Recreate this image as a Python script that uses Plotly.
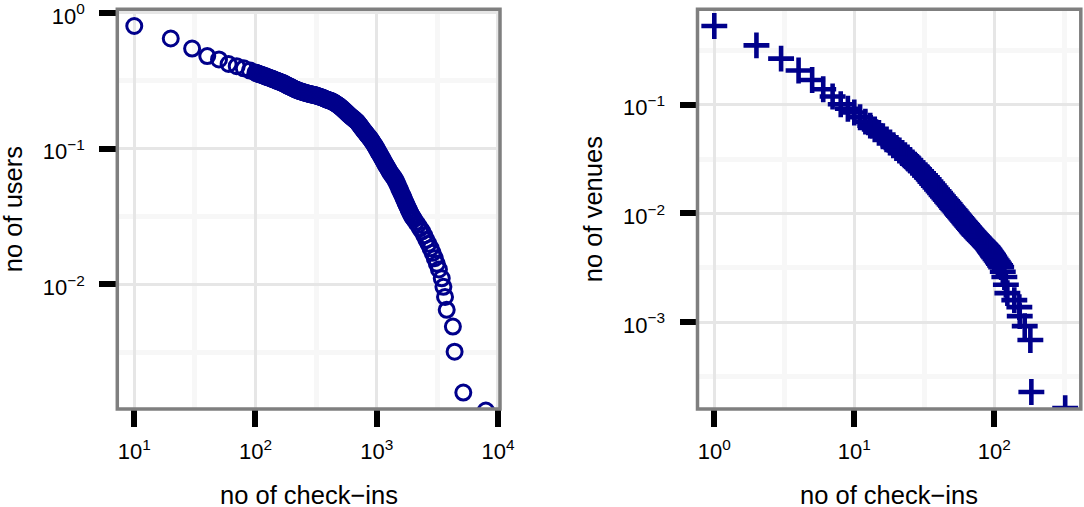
import plotly.graph_objects as go

W, H = 1084, 507

# ---------------- data ----------------
# Left panel: distribution of check-ins per user
users_checkins = [10, 20, 30, 40, 50, 60, 70, 80, 90,
                  100, 102, 105, 107, 110, 112, 115, 117, 120, 122,
                  125, 127, 130, 133, 136, 139, 142, 145, 148, 151,
                  154, 157, 160, 163, 167, 170, 174, 177, 181, 184,
                  188, 192, 196, 200, 204, 208, 212, 216, 221, 225,
                  230, 235, 240, 245, 250, 255, 260, 265, 271, 276,
                  282, 288, 294, 300, 306, 312, 318, 324, 331, 338,
                  345, 352, 359, 366, 374, 381, 389, 397, 405, 413,
                  422, 431, 440, 449, 458, 467, 477, 487, 497, 507,
                  518, 529, 540, 551, 562, 573, 585, 597, 610, 622,
                  635, 648, 661, 674, 688, 702, 716, 730, 745, 760,
                  776, 792, 808, 824, 841, 858, 875, 893, 911, 929,
                  948, 967, 987, 1007, 1027, 1048, 1069, 1091, 1113, 1135,
                  1158, 1181, 1205, 1229, 1254, 1279, 1305, 1331, 1358, 1385,
                  1413, 1441, 1470, 1500, 1530, 1561, 1592, 1624, 1657, 1690,
                  1724, 1759, 1794, 1830, 1867, 1905, 1943, 1982, 2022,
                  2104, 2190, 2279, 2372, 2468, 2568, 2672, 2781, 2894, 3011,
                  3133, 3260,
                  3440, 3550, 3660, 3780, 4250, 4390, 5180, 7950]
users_frac = [0.80, 0.647, 0.546, 0.48, 0.454, 0.42, 0.405, 0.39, 0.376,
              0.363, 0.360, 0.357, 0.3545, 0.352, 0.3495, 0.347, 0.3445, 0.342, 0.3395,
              0.337, 0.335, 0.333, 0.3305, 0.328, 0.3255, 0.323, 0.3205, 0.318, 0.316,
              0.314, 0.312, 0.310, 0.3075, 0.305, 0.3025, 0.300, 0.297, 0.294, 0.2915,
              0.289, 0.2865, 0.284, 0.2815, 0.279, 0.2765, 0.274, 0.272, 0.270, 0.268,
              0.266, 0.2645, 0.263, 0.2615, 0.260, 0.2585, 0.257, 0.256, 0.255, 0.2535,
              0.252, 0.251, 0.250, 0.249, 0.248, 0.247, 0.246, 0.2445, 0.243, 0.2415,
              0.240, 0.2385, 0.237, 0.235, 0.233, 0.2315, 0.230, 0.2285, 0.227, 0.2255,
              0.224, 0.222, 0.220, 0.2175, 0.215, 0.2125, 0.210, 0.207, 0.204, 0.201,
              0.198, 0.1945, 0.191, 0.188, 0.185, 0.182, 0.179, 0.176, 0.173, 0.1705,
              0.168, 0.1655, 0.163, 0.1605, 0.158, 0.1545, 0.151, 0.1475, 0.144, 0.1405,
              0.137, 0.134, 0.131, 0.128, 0.125, 0.1225, 0.120, 0.117, 0.114, 0.111,
              0.108, 0.105, 0.102, 0.0987, 0.0955, 0.0926, 0.0897, 0.0870, 0.0843, 0.0816,
              0.0789, 0.0766, 0.0743, 0.0720, 0.0698, 0.0678, 0.0659, 0.0643, 0.0627, 0.0611,
              0.0596, 0.0576, 0.0556, 0.0534, 0.0512, 0.0492, 0.0473, 0.0455, 0.0438, 0.0420,
              0.0403, 0.0387, 0.0372, 0.0358, 0.0344, 0.0332, 0.0321, 0.0312, 0.0304,
              0.0288, 0.0274, 0.0259, 0.0246, 0.0230, 0.0213, 0.0199, 0.0185, 0.0171, 0.0156,
              0.0142, 0.0129,
              0.0111, 0.0096, 0.0081, 0.0065, 0.0049, 0.0032, 0.0016, 0.00118]

# Right panel: distribution of check-ins per venue
venues_checkins = [1, 2, 3, 4, 5, 6, 7, 8, 9,
                   10, 11, 12, 13, 14, 15, 16, 17, 18, 19,
                   20, 21, 22, 23, 24, 25, 26, 27, 28, 29,
                   30, 31, 32, 33, 34, 35, 36, 37, 38, 39,
                   40, 41, 42, 43, 44, 45, 46, 47, 48, 49,
                   50, 51, 52, 53, 54, 55, 56, 57, 58, 59,
                   60, 61, 62, 63, 64, 65, 66, 67, 68, 69,
                   70, 71, 72, 73, 74, 75, 76, 77, 78, 79,
                   80, 81, 82, 83, 84, 85, 86, 87, 88, 89,
                   90, 91, 92, 93, 94, 95, 96, 97, 98, 99,
                   100, 102, 104, 106, 108, 110, 112, 115, 118, 121,
                   124, 139, 151, 152, 165, 181, 184, 321]
venues_frac = [0.531, 0.352, 0.266, 0.207, 0.169, 0.139, 0.119, 0.101, 0.092,
               0.0849, 0.0767, 0.0700, 0.0643, 0.0594, 0.0551, 0.0513, 0.0480, 0.0450, 0.0424,
               0.0400, 0.0379, 0.0360, 0.0343, 0.0327, 0.0310, 0.0294, 0.0280, 0.0267, 0.0255,
               0.0244, 0.0234, 0.0224, 0.0215, 0.0206, 0.0196, 0.0188, 0.0180, 0.0173, 0.0166,
               0.0160, 0.0154, 0.0148, 0.0143, 0.0138, 0.01335, 0.0129, 0.0125, 0.0121, 0.0117,
               0.0113, 0.0110, 0.0107, 0.0104, 0.01005, 0.00977, 0.0095, 0.00925, 0.00901, 0.00878,
               0.00855, 0.00834, 0.00813, 0.00794, 0.00775, 0.00757, 0.00739, 0.00722, 0.00706, 0.0069,
               0.00675, 0.00661, 0.00648, 0.00636, 0.00625, 0.00614, 0.00603, 0.00592, 0.00582, 0.00572,
               0.00563, 0.00554, 0.00545, 0.00536, 0.00528, 0.00519, 0.00511, 0.00503, 0.00496, 0.00488,
               0.0048, 0.0047, 0.00461, 0.00452, 0.00443, 0.00435, 0.00427, 0.00419, 0.00411, 0.00403,
               0.00395, 0.00381, 0.00368, 0.00356, 0.00344, 0.00332, 0.0032, 0.0029, 0.0026, 0.0022,
               0.001845, 0.001589, 0.00137, 0.001132, 0.000916, 0.000682, 0.000227, 0.000161]

# tick labels
left_xtickvals = [10, 100, 1000, 10000]
left_xticktext = ["10<sup>1</sup>", "10<sup>2</sup>", "10<sup>3</sup>", "10<sup>4</sup>"]
left_ytickvals = [1, 0.1, 0.01]
left_yticktext = ["10<sup>0</sup>", "10<sup>\u22121</sup>", "10<sup>\u22122</sup>"]
right_xtickvals = [1, 10, 100]
right_xticktext = ["10<sup>0</sup>", "10<sup>1</sup>", "10<sup>2</sup>"]
right_ytickvals = [0.1, 0.01, 0.001]
right_yticktext = ["10<sup>\u22121</sup>", "10<sup>\u22122</sup>", "10<sup>\u22123</sup>"]

left_xminor = [31.62, 316.2, 3162]
left_yminor = [0.3162, 0.03162, 0.003162]
right_xminor = [3.162, 31.62, 316.2]
right_yminor = [0.3162, 0.03162, 0.003162, 0.0003162]

x_title = "no of check\u2212ins"
left_ytitle = "no of users"
right_ytitle = "no of venues"

# ---------------- style ----------------
NAVY = "#00008B"
FONT = "Liberation Sans, Arial, Helvetica, sans-serif"
TICKFONT = dict(family=FONT, size=22, color="black")
TITLEFONT = dict(family=FONT, size=25.5, color="black")

# pixel geometry of the panels
L_x0, L_x1 = 117.3, 500.0
R_x0, R_x1 = 697.5, 1080.8
P_top, P_bot = 9.3, 409.0

fig = go.Figure()
fig.add_trace(go.Scatter(
    x=users_checkins, y=users_frac, mode="markers",
    marker=dict(symbol="circle-open", size=15, color=NAVY,
                line=dict(width=3, color=NAVY)),
    xaxis="x", yaxis="y", showlegend=False, hoverinfo="x+y"))
fig.add_trace(go.Scatter(
    x=venues_checkins, y=venues_frac, mode="markers",
    marker=dict(symbol="cross-thin-open", size=18.5, color=NAVY,
                line=dict(width=4.6, color=NAVY)),
    xaxis="x2", yaxis="y2", showlegend=False, hoverinfo="x+y"))

def axis_common(tickvals, ticktext, minor_vals, standoff, shift=0):
    return dict(
        type="log", tickmode="array", tickvals=tickvals, ticktext=ticktext,
        ticks="outside", ticklen=17, tickwidth=6, tickcolor="black",
        tickfont=TICKFONT, ticklabelstandoff=standoff, ticklabelshift=shift,
        ticklabeloverflow="allow",
        showgrid=True, gridcolor="#e6e6e6", gridwidth=3,
        zeroline=False, showline=False, automargin=False,
        minor=dict(tickmode="array", tickvals=minor_vals, showgrid=True,
                   gridcolor="#f7f7f7", gridwidth=5, ticks=""),
        fixedrange=True,
    )

ydom = [1 - P_bot / H, 1 - P_top / H]
fig.update_layout(
    width=W, height=H, autosize=False,
    margin=dict(l=0, r=0, t=0, b=0, pad=0),
    paper_bgcolor="white", plot_bgcolor="white",
    xaxis=dict(domain=[L_x0 / W, L_x1 / W], range=[0.86, 4.017], anchor="y",
               **axis_common(left_xtickvals, left_xticktext, left_xminor, 6)),
    yaxis=dict(domain=ydom, range=[-2.917, 0.026], anchor="x",
               **axis_common(left_ytickvals, left_yticktext, left_yminor, 10, 3)),
    xaxis2=dict(domain=[R_x0 / W, R_x1 / W], range=[-0.12, 2.618], anchor="y2",
                **axis_common(right_xtickvals, right_xticktext, right_xminor, 6)),
    yaxis2=dict(domain=ydom, range=[-3.801, -0.121], anchor="x2",
                **axis_common(right_ytickvals, right_yticktext, right_yminor, 10, 3)),
)

# panel borders
for xr, yr in (("x domain", "y domain"), ("x2 domain", "y2 domain")):
    fig.add_shape(type="rect", xref=xr, yref=yr, x0=0, x1=1, y0=0, y1=1,
                  line=dict(color="#7f7f7f", width=3.5), layer="above")

# axis titles
ty = 1 - 495 / H
fig.add_annotation(text=x_title, xref="paper", yref="paper",
                   x=(L_x0 + L_x1) / 2 / W, y=ty, showarrow=False,
                   xanchor="center", yanchor="middle", font=TITLEFONT)
fig.add_annotation(text=x_title, xref="paper", yref="paper",
                   x=(R_x0 + R_x1) / 2 / W, y=ty, showarrow=False,
                   xanchor="center", yanchor="middle", font=TITLEFONT)
ymid = 1 - (P_top + P_bot) / 2 / H
fig.add_annotation(text=left_ytitle, xref="paper", yref="paper",
                   x=13 / W, y=ymid, showarrow=False, textangle=-90,
                   xanchor="center", yanchor="middle", font=TITLEFONT)
fig.add_annotation(text=right_ytitle, xref="paper", yref="paper",
                   x=(580 + 13) / W, y=ymid, showarrow=False, textangle=-90,
                   xanchor="center", yanchor="middle", font=TITLEFONT)

fig.write_html(
    "out.html",
    config={"displayModeBar": False, "responsive": False},
    post_script="document.body.style.margin='0';document.body.style.padding='0';"
                "document.documentElement.style.overflow='hidden';",
)
